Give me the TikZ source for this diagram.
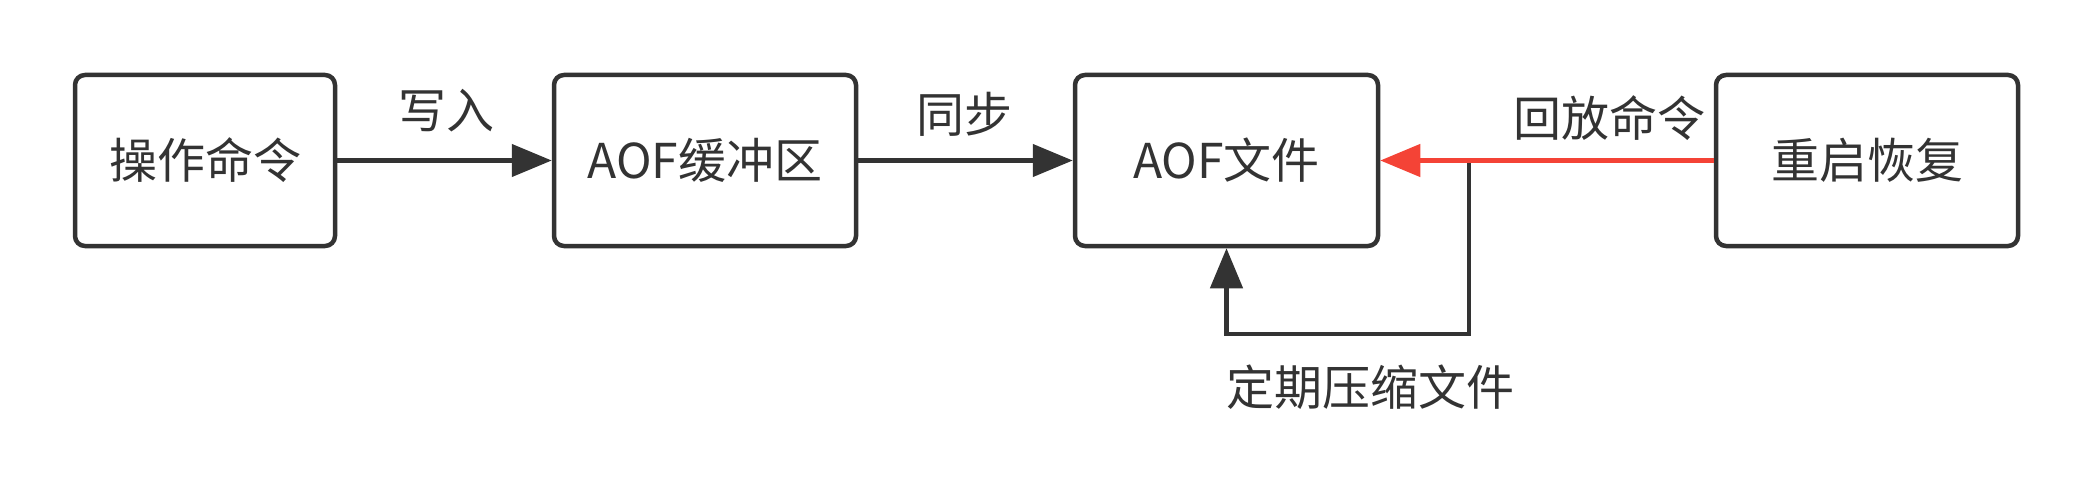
\documentclass[tikz,border=0pt]{standalone}
\usepackage{fontspec}
\setmainfont{Noto Sans CJK SC}
\usetikzlibrary{arrows.meta}
\definecolor{ink}{HTML}{333333}
\definecolor{redline}{HTML}{F44336}
\tikzset{
  box/.style={draw=ink, line width=4.5pt, rounded corners=10pt, fill=white,
    minimum height=171pt, text=ink, font=\fontsize{48pt}{57pt}\selectfont, inner sep=0pt},
  lbl/.style={text=ink, font=\fontsize{48pt}{57pt}\selectfont, inner sep=0pt},
  darkarrow/.style={draw=ink, line width=4.5pt, -{Triangle[length=40pt,width=32pt]}},
  redarrow/.style={draw=redline, line width=4.5pt, -{Triangle[length=40pt,width=32pt]}}
}
\begin{document}
\begin{tikzpicture}[x=1pt,y=-1pt]
\useasboundingbox (0,0) rectangle (2094,500);
\fill[white] (0,0) rectangle (2094,500);
\node[box, minimum width=260pt] (b1) at (205,160.5) {操作命令};
\node[box, minimum width=302pt] (b2) at (705,160.5) {AOF缓冲区};
\node[box, minimum width=303pt] (b3) at (1226.5,160.5) {AOF文件};
\node[box, minimum width=302pt] (b4) at (1867,160.5) {重启恢复};
\coordinate (j) at (1469,160.5);
\coordinate (lb) at (1469,334);
\draw[darkarrow] (b1.east) -- (b2.west);
\draw[darkarrow] (b2.east) -- (b3.west);
\draw[darkarrow] (j) -- (lb) -| (b3.south);
\draw[redarrow] (b4.west) -- (b3.east);
\node[lbl] (l1) at (446,111) {写入};
\node[lbl] (l2) at (964,114) {同步};
\node[lbl] (l3) at (1609,118) {回放命令};
\node[lbl] (l4) at (1370,387) {定期压缩文件};
\end{tikzpicture}
\end{document}
